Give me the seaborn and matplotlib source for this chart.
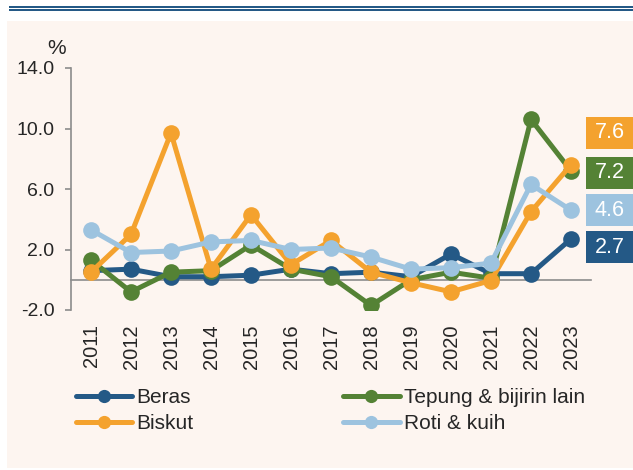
import numpy as np
import pandas as pd
import matplotlib
matplotlib.use("Agg")
import matplotlib.pyplot as plt
from matplotlib.patches import Rectangle
from matplotlib.lines import Line2D
import seaborn as sns

# Data
tahun = ['2011', '2012', '2013', '2014', '2015', '2016', '2017',
         '2018', '2019', '2020', '2021', '2022', '2023']
beras = [0.6, 0.7, 0.2, 0.2, 0.3, 0.7, 0.4, 0.5, 0.2, 1.7, 0.4, 0.4, 2.7]
tepung = [1.3, -0.8, 0.5, 0.6, 2.3, 0.7, 0.2, -1.7, 0.0, 0.5, 0.1, 10.6, 7.2]
biskut = [0.5, 3.0, 9.7, 0.7, 4.3, 1.0, 2.6, 0.5, -0.2, -0.8, -0.05, 4.5, 7.6]
roti = [3.3, 1.8, 1.9, 2.5, 2.6, 2.0, 2.1, 1.5, 0.7, 0.8, 1.1, 6.3, 4.6]

nama = ['Beras', 'Tepung & bijirin lain', 'Biskut', 'Roti & kuih']
warna = ['#245986', '#548235', '#F4A22E', '#9DC3DF']
siri = [beras, tepung, biskut, roti]

sns.set_style("white")
plt.rcParams['font.family'] = ['Liberation Sans', 'DejaVu Sans']

fig = plt.figure(figsize=(6.33, 4.70), dpi=100)
fig.patch.set_facecolor('white')

W, H = 633.0, 470.0
# panel latar dan garisan atas
fig.patches.append(Rectangle((7 / W, 1 - 468 / H), 626 / W, 447 / H,
                             transform=fig.transFigure, facecolor='#FDF5F0',
                             edgecolor='none', zorder=-10))
fig.patches.append(Rectangle((9 / W, 1 - 7.7 / H), 624 / W, 2.2 / H,
                             transform=fig.transFigure, facecolor='#245986',
                             edgecolor='none', zorder=-10))
fig.patches.append(Rectangle((9 / W, 1 - 10.8 / H), 624 / W, 1.8 / H,
                             transform=fig.transFigure, facecolor='#245986',
                             edgecolor='none', zorder=-10))

ax = fig.add_axes([71 / W, 1 - 310 / H, 520 / W, 242 / H])
ax.set_facecolor('none')
ax.set_zorder(5)

x = np.arange(len(tahun))
for s, n, c in zip(siri, nama, warna):
    df = pd.DataFrame({'x': x, 'y': s})
    sns.lineplot(data=df, x='x', y='y', ax=ax, color=c, linewidth=3.6,
                 marker='o', markersize=12, markeredgewidth=0, label=n,
                 legend=False)

ax.set_xlim(-0.5, len(tahun) - 0.5)
ax.set_ylim(-2, 14)
ax.set_yticks([-2, 2, 6, 10, 14])
ax.set_yticklabels(['-2.0', '2.0', '6.0', '10.0', '14.0'], fontsize=14)
ax.set_xlabel('')
ax.set_ylabel('')

for k in ['top', 'right']:
    ax.spines[k].set_visible(False)
ax.spines['left'].set_color('#8C8C8C')
ax.spines['left'].set_linewidth(1.2)
ax.spines['bottom'].set_position(('data', 0))
ax.spines['bottom'].set_color('#8C8C8C')
ax.spines['bottom'].set_linewidth(1.2)
ax.spines['bottom'].set_zorder(0.5)

ax.set_xticks(x)
ax.set_xticklabels(tahun, rotation=90, fontsize=14.5)
ax.set_xticks(np.arange(-0.5, len(tahun)), minor=True)
ax.tick_params(axis='x', which='major', length=0, pad=32)
ax.tick_params(axis='x', which='minor', length=4, width=1.2, color='#8C8C8C',
               direction='out')
ax.tick_params(axis='y', length=4, width=1.2, color='#8C8C8C', direction='out',
               pad=8, left=True)

fig.text(57 / W, 1 - 48 / H, '%', fontsize=15, ha='center', va='center')

# kotak nilai terakhir
kotak = [(biskut[-1], warna[2], 132.5), (tepung[-1], warna[1], 172.5),
         (roti[-1], warna[3], 210), (beras[-1], warna[0], 247)]
for v, c, yp in kotak:
    fig.patches.append(Rectangle((586 / W, 1 - (yp + 16) / H), 47 / W, 32 / H,
                                 transform=fig.transFigure, facecolor=c,
                                 edgecolor='none', zorder=1))
    fig.text(609.5 / W, 1 - yp / H, f'{v:.1f}', color='white', fontsize=15.5,
             ha='center', va='center', zorder=2)

# legenda
h = [Line2D([0], [0], color=c, linewidth=3.6, marker='o', markersize=9.5,
            markeredgewidth=0) for c in warna]
urutan = [0, 2, 1, 3]
fig.legend([h[i] for i in urutan], [nama[i] for i in urutan], ncol=2,
           loc='upper left', bbox_to_anchor=(76 / W, 1 - 388 / H),
           frameon=False, fontsize=15, handlelength=2.7, handletextpad=0.19,
           columnspacing=7.2, labelspacing=0.35, borderpad=0, borderaxespad=0)

fig.savefig('out.png', dpi=100)
